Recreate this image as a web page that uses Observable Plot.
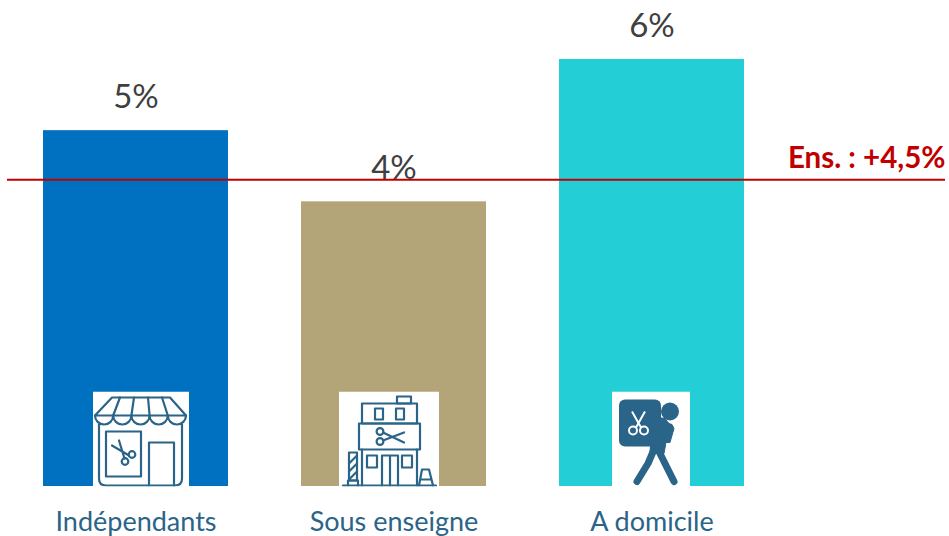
<!DOCTYPE html>
<html><head><meta charset="utf-8">
<script src="https://cdn.jsdelivr.net/npm/d3@7"></script>
<script src="https://cdn.jsdelivr.net/npm/@observablehq/plot@0.6"></script>
<style>html,body{margin:0;padding:0;background:#fff}svg{display:block}</style>
</head><body><div id="chart"></div>
<script>
const categories = ["Indépendants", "Sous enseigne", "A domicile"];
const values = [5, 4, 6];
const valueLabels = ["5%", "4%", "6%"];
const barColors = ["#0070c0", "#b4a578", "#24ced6"];
const referenceLine = [4.31];
const referenceLabel = ["Ens. : +4,5%"];

const ink = "#2a6488";
const wrap = (w, h, body) => "data:image/svg+xml," + encodeURIComponent(
  `<svg xmlns="http://www.w3.org/2000/svg" width="${w}" height="${h}" viewBox="0 0 ${w} ${h}"><rect width="${w}" height="${h}" fill="#fff"/>${body}</svg>`);
const lined = (sw, s) => `<g fill="none" stroke="${ink}" stroke-width="${sw}" stroke-linejoin="round" stroke-linecap="round">${s}</g>`;

const shopIcon = wrap(96, 95, lined(2.2, `
  <path d="M19 6H77L93 24H2Z"/>
  <path d="M2 24a9.1 9 0 0 0 18.2 0a9.1 9 0 0 0 18.2 0a9.1 9 0 0 0 18.2 0a9.1 9 0 0 0 18.2 0a9.1 9 0 0 0 18.2 0"/>
  <path d="M27 6L20.2 24M41 6L38.4 24M55 6L56.6 24M69 6L74.8 24"/>
  <path d="M6 33V87Q6 94 13 94H82Q89 94 89 87V33"/>
  <rect x="13" y="40" width="35" height="45"/>
  <path d="M56 94V51H81V94"/>
  <circle cx="39" cy="63" r="3.3"/><circle cx="32" cy="70" r="3.3"/>
  <path d="M19 54L36 64M26 49L31.500 67"/>`));

const chainIcon = wrap(100, 95, lined(2.2, `
  <rect x="58" y="5" width="14" height="7"/>
  <rect x="23" y="12" width="55" height="20"/>
  <rect x="36" y="17" width="8" height="11"/><rect x="57" y="17" width="8" height="11"/>
  <rect x="20" y="32" width="61" height="26"/>
  <path d="M23 58V94M78 58V94"/>
  <rect x="28" y="64" width="10" height="12"/><rect x="63" y="64" width="10" height="12"/>
  <path d="M43 94V64H59V94M51 64V94"/>
  <path d="M4 94H97"/>
  <rect x="10" y="61" width="8" height="28"/><path d="M9 94V89H19V94M10 72L18 64M10 80L18 72M10 88L18 80"/>
  <path d="M80 94L83 78H90L94 94M82 88H92"/>
  <circle cx="41" cy="40" r="3.4"/><circle cx="41" cy="50" r="3.4"/>
  <path d="M44 41L65 51M44 49L65 41"/>`));

const walkerIcon = wrap(78, 95, `
  <rect x="7" y="8" width="42" height="47" rx="6" fill="${ink}"/>
  <circle cx="58" cy="20" r="9" fill="${ink}"/>
  <path d="M40 25L53 27L57 32L60 33L62 37L58 51H54L52 62H38Z" fill="${ink}" stroke="${ink}" stroke-linejoin="round"/>
  <path d="M42 58L36 72L25 90M46 58L62 90" fill="none" stroke="${ink}" stroke-width="7" stroke-linecap="round" stroke-linejoin="round"/>
  <g fill="none" stroke="#fff" stroke-width="2">
    <circle cx="21" cy="39" r="4"/><circle cx="32" cy="39" r="4"/>
    <path d="M24 36L33 20M29 36L20 20"/>
  </g>`);

const table = categories.map((category, i) => ({category, value: values[i], label: valueLabels[i], color: barColors[i]}));

const icon = (i, src, w, dx) => Plot.image([table[i]], {
  x: "category", y: () => 0, src: () => src, width: w, height: 95, dx, dy: -47.5, preserveAspectRatio: "none"
});

const plot = Plot.plot({
  width: 949, height: 536,
  marginTop: 0, marginLeft: 7, marginRight: 4, marginBottom: 50,
  style: {fontFamily: "Lato, sans-serif", background: "#fff"},
  x: {domain: categories, range: [-30, 817], padding: 0.283, round: false, label: null},
  y: {domain: [0, 6], range: [486, 59], label: null, axis: null},
  marks: [
    Plot.barY(table, {x: "category", y: "value", fill: "color"}),
    icon(0, shopIcon, 96, 5),
    icon(1, chainIcon, 100, -5),
    icon(2, walkerIcon, 78, -1),
    Plot.text(table, {x: "category", y: "value", text: "label", dy: -33, fontSize: 33, fill: "#404040"}),
    Plot.ruleY(referenceLine, {stroke: "#c00000", strokeWidth: 2}),
    Plot.text(referenceLabel, {y: () => referenceLine[0], text: d => d, frameAnchor: "right", textAnchor: "end", dy: -21, fontSize: 29.5, fontWeight: 700, fill: "#c00000"}),
    Plot.axisX({domain: categories, tickSize: 0, tickPadding: 0, fontSize: 27, color: "#2a6488", label: null, dy: 25})
  ]
});
document.getElementById("chart").append(plot);
</script></body></html>
